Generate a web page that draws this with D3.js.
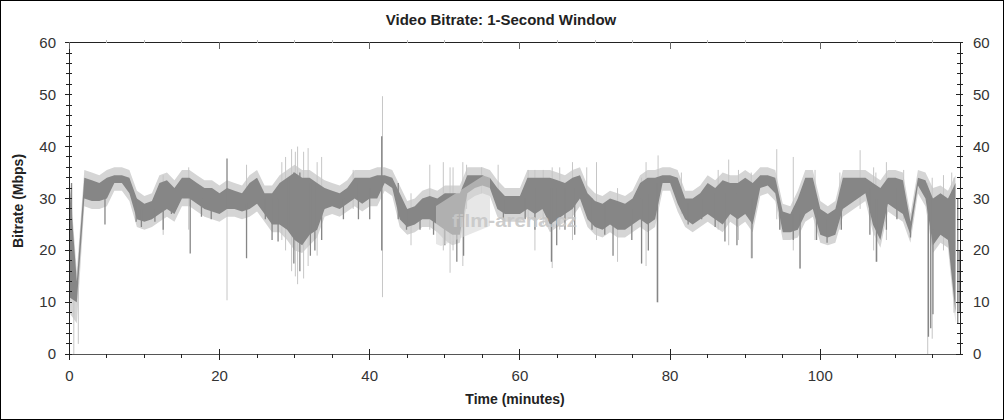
<!DOCTYPE html>
<html><head><meta charset="utf-8">
<script src="https://cdn.jsdelivr.net/npm/d3@7"></script>
<style>
html,body{margin:0;padding:0;background:#fff;}
svg{display:block;font-family:"Liberation Sans",Arial,sans-serif;}
</style></head>
<body>
<svg id="chart" width="1004" height="420"></svg>
<script>
// ---- data (per minute, Mbps) ----
const title = "Video Bitrate: 1-Second Window";
const xLabel = "Time (minutes)";
const yLabel = "Bitrate (Mbps)";
const xTicks = [0, 20, 40, 60, 80, 100];
const yTicks = [0, 10, 20, 30, 40, 50, 60];
const xMax = 118.6;
const minutes = d3.range(0, 119);

// dark (core) band
const darkLow = [
 11,10,30,29.5,29.5,30,33,33,31,26,
 25.5,26,27,28,27,30,30,29,28,27.5,
 27,28,28,27.5,28,29,27,25,25,24,
 22,21,23,24,28,28.5,28,29,30,29,
 30,30,33,32,26,24.5,25,26,26,25,
 24,23,23,31,32,32.5,32,28,27,27,
 27,28,27,28,25,26,27,28,30,26,
 24.5,24,25,24,24,25,26,25,26,33,
 33,29,26,25,26,27,26,25,27,26,
 27,25,32,32.5,31,23.5,23.5,24,27,28,
 23,22.5,23,28,29,30,31,25,22,29,
 28,27,23,32.5,30,21,23,22,8];
const darkHigh = [
 33.5,14,34,33.5,33,34,34.5,34.5,34,30,
 29,29.5,33,33.5,32,34,34,33,32,32,
 31,32,31.5,31,33,34,31,31,33,34,
 35,34,34,33,32,31.5,31,32,34,34,
 34,34.5,34.5,34,31,28,28.5,30,30.5,30,
 31,31,31,34.5,34.5,34.5,34,32,30.5,30.5,
 30.5,34,34,34,34,33.5,33,34,34.5,31,
 29.5,29,30,29.5,29,30,33,34,34,34.5,
 34.5,34,30,30,31,33,32,33.5,33,33,
 34,33,34.5,34.5,34,27.5,27,30,34,34,
 28,27,28,34,34,34,34,33,32,34,
 34,33.5,25.5,34,33.5,30,31,30,33];
// light (outer) band
const lightLow = [
 8,6,28.5,28,28,28.5,31.5,31.5,29.5,24.5,
 24,24.5,25.5,26.5,25.5,28.5,28.5,27.5,26.5,26,
 25.5,26.5,26.5,26,26.5,27.5,25.5,23.5,23.5,22,
 20,19.5,21,22.5,26.5,27,26.5,27.5,28.5,27.5,
 28.5,28.5,31.5,30.5,24.5,23,23.5,24.5,24.5,23.5,
 22,21,21.5,29.5,30.5,31,30.5,26.5,25.5,25.5,
 25.5,26.5,25.5,26.5,23.5,24.5,25.5,26.5,28.5,24.5,
 23,22.5,23.5,22.5,22.5,23.5,24.5,23.5,24.5,31.5,
 31.5,27.5,24.5,23.5,24.5,25.5,24.5,23.5,25.5,24.5,
 25.5,23.5,30.5,31,29.5,22,22,22.5,25.5,26.5,
 21.5,21,21.5,26.5,27.5,28.5,29.5,23.5,20.5,27.5,
 26.5,25.5,21.5,31,28.5,19.5,21.5,20.5,6];
const lightHigh = [
 35,16,35.5,35,34.5,35.5,36,36,35.5,31.5,
 30.5,31,34.5,35,33.5,35.5,35.5,34.5,33.5,33.5,
 32.5,33.5,33,32.5,34.5,35.5,32.5,32.5,34.5,35.5,
 36.5,35.5,35.5,34.5,33.5,33,32.5,33.5,35.5,35.5,
 35.5,36,36,35.5,32.5,29.5,30,31.5,32,31.5,
 32.5,32.5,32.5,36,36,36,35.5,33.5,32,32,
 32,35.5,35.5,35.5,35.5,35,34.5,35.5,36,32.5,
 31,30.5,31.5,31,30.5,31.5,34.5,35.5,35.5,36,
 36,35.5,31.5,31.5,32.5,34.5,33.5,35,34.5,34.5,
 35.5,34.5,36,36,35.5,29,28.5,31.5,35.5,35.5,
 29.5,28.5,29.5,35.5,35.5,35.5,35.5,34.5,33.5,35.5,
 35.5,35,27,35.5,35,32,32.5,31.5,34.5];
// isolated spikes: [minute, low, high]
const lightSpikes = [
 [0.6,0,20],[1.2,2,14],[12.5,23,34.5],[15.9,24,36],[21.0,10.4,32],[23.6,22,36.5],
 [28.3,22,37],[28.8,20,38],[29.6,16,39.5],[30.1,15,39],[30.4,13.5,40],[31.2,14.6,39],
 [31.8,17,39.7],[33.0,19,37],[33.6,22,38],[37.8,28,35.5],[41.7,11,49.7],[45.5,21,31],
 [48.0,24,36.5],[49.8,20,37],[50.7,15.7,36],[51.1,20,36],[52.4,17,37],[52.9,28,36.5],
 [54.9,31,36],[57.1,28,36.5],[61.1,26,35.5],[62.0,20,35.5],[63.1,25,35.5],[64.3,16.6,36],
 [65.3,24,36],[67.0,22,37],[68.9,28,36],[70.2,22,37],[73.0,17.8,32],[76.2,17.5,34],
 [76.8,17,37],[78.4,10,38.3],[81.5,27,35],[86.4,24,35.5],[87.8,21,37.5],[89.1,22,35.5],
 [90.8,18.5,35],[94.2,26,39.5],[96.4,20,38],[97.3,16.5,30],[99.3,22,35.5],[102.6,24,35],
 [105.3,28,39.3],[107.1,20,36],[107.4,17.8,35],[108.8,22,37],[111.1,26,35.5],[114.3,0,33],
 [114.9,3,34],[116.4,20,34.5],[117.5,18,35],[117.8,8,34]];
const darkSpikes = [
 [0.3,11,33],[4.75,25,32],[8.9,25.5,30],[9.6,24.5,28],[11.4,25.5,28],[12.5,24,30],
 [13.6,27,32],[16.1,19.4,31],[17.6,26.5,30],[18.9,26,30],[21.0,28,37.7],[23.6,18.5,29],
 [26.1,26,30],[27.0,22,30],[27.8,21.7,30],[29.2,24,34],[29.9,17.5,35],[30.7,16,35],
 [32.1,19,33],[32.7,20,33],[33.6,22,32],[36.5,26,30],[38.5,26,33],[40.0,26,32],
 [41.6,20,42],[43.8,26,33],[44.9,24,28],[46.7,24,28],[48.5,23,29],[50.0,21,30],
 [51.6,17.8,30],[52.5,19,30],[57.8,26,30],[60.7,26,30],[62.0,24,32],[64.2,17.8,32],
 [64.9,21,32],[66.0,24,32],[67.3,23,32],[69.6,24,30],[71.3,23,29],[72.4,19,28],
 [74.9,22,28],[76.2,17.5,30],[77.1,20,31],[78.3,10,33],[82.4,25,29],[84.2,26,30],
 [86.0,24.5,31],[87.3,21.7,31],[88.9,21,31],[90.9,18.5,30],[94.6,24,28],[96.4,22,27],
 [97.3,16.5,27],[99.5,22,30],[100.9,21.5,26],[102.8,24,30],[106.6,23,32],[107.5,17.8,30],
 [108.8,24,32],[110.2,26,32],[112.0,22.5,25],[114.4,3.4,31],[114.7,5,30],[115.0,7.7,24],
 [118.3,6,30],[118.5,8,20]];
const watermark = "film-arena.cz";

// ---- layout ----
const svg = d3.select("#chart");
const W = 1004, H = 420;
const m = {left: 69.3, right: 960, top: 42.7, bottom: 354.3};
const x = d3.scaleLinear().domain([0, xMax]).range([m.left, m.right]);
const y = d3.scaleLinear().domain([0, 60]).range([m.bottom, m.top]);

svg.append("rect").attr("x",0.5).attr("y",0.5).attr("width",W-1).attr("height",H-1)
  .attr("fill","#fff").attr("stroke","#000");

const rows = minutes.map((t,i)=>({t, dl:darkLow[i], dh:darkHigh[i], ll:lightLow[i], lh:lightHigh[i]}));
svg.append("clipPath").attr("id","pc").append("rect")
  .attr("x",m.left).attr("y",m.top).attr("width",m.right-m.left).attr("height",m.bottom-m.top);
const g = svg.append("g").attr("clip-path","url(#pc)");

g.append("path").datum(rows).attr("fill","#d5d5d5")
  .attr("d", d3.area().x(d=>x(d.t)).y0(d=>y(d.ll)).y1(d=>y(d.lh)));
g.selectAll("line.ls").data(lightSpikes).join("line").attr("class","ls")
  .attr("x1",d=>x(d[0])).attr("x2",d=>x(d[0])).attr("y1",d=>y(d[1])).attr("y2",d=>y(d[2]))
  .attr("stroke","#c6c6c6").attr("stroke-width",1);
g.append("path").datum(rows).attr("fill","#868686")
  .attr("d", d3.area().x(d=>x(d.t)).y0(d=>y(d.dl)).y1(d=>y(d.dh)));
g.selectAll("line.ds").data(darkSpikes).join("line").attr("class","ds")
  .attr("x1",d=>x(d[0])).attr("x2",d=>x(d[0])).attr("y1",d=>y(d[1])).attr("y2",d=>y(d[2]))
  .attr("stroke","#868686").attr("stroke-width",1.3);

// watermark
const wm = svg.append("g");
wm.append("path").attr("d","M436,206 L486,174 L490,177 L490,226 L441,246 L436,244 Z")
  .attr("fill","#d4d4d4").attr("opacity",0.55);
wm.append("text").attr("x",452).attr("y",227).attr("font-size",18).attr("font-weight","bold")
  .attr("textLength",125).attr("lengthAdjust","spacingAndGlyphs")
  .attr("fill","#c8c8c8").attr("opacity",0.9).text(watermark);

// ---- axes ----
const axes = svg.append("g").attr("stroke","#222").attr("stroke-width",1).attr("shape-rendering","crispEdges");
axes.append("line").attr("x1",m.left).attr("x2",m.right).attr("y1",m.top).attr("y2",m.top);
axes.append("line").attr("x1",m.left).attr("x2",m.right).attr("y1",m.bottom).attr("y2",m.bottom).attr("stroke","#555");
axes.append("line").attr("x1",m.left).attr("x2",m.left).attr("y1",m.top).attr("y2",m.bottom);
axes.append("line").attr("x1",m.right).attr("x2",m.right).attr("y1",m.top).attr("y2",m.bottom);

const yMinor = d3.range(0, 61, 2).filter(v=>v%10!==0);
const xMinor = d3.range(0, xMax, 5).filter(v=>v%20!==0);
[m.left, m.right].forEach(ax=>{
  axes.selectAll(null).data(yTicks).join("line")
    .attr("x1",ax-4).attr("x2",ax+3).attr("y1",d=>y(d)).attr("y2",d=>y(d));
  axes.selectAll(null).data(yMinor).join("line")
    .attr("x1",ax-3).attr("x2",ax+3).attr("y1",d=>y(d)).attr("y2",d=>y(d));
});
axes.selectAll(null).data(xTicks).join("line")
  .attr("x1",d=>x(d)).attr("x2",d=>x(d)).attr("y1",m.bottom-5).attr("y2",m.bottom+6);
axes.selectAll(null).data(xMinor).join("line")
  .attr("x1",d=>x(d)).attr("x2",d=>x(d)).attr("y1",m.bottom).attr("y2",m.bottom+4);
axes.selectAll(null).data(xTicks).join("line")
  .attr("x1",d=>x(d)).attr("x2",d=>x(d)).attr("y1",m.top-1).attr("y2",m.top+6).attr("stroke","#666");
axes.selectAll(null).data(xMinor).join("line")
  .attr("x1",d=>x(d)).attr("x2",d=>x(d)).attr("y1",m.top-3).attr("y2",m.top).attr("stroke","#bbb");

// tick labels
const lab = svg.append("g").attr("fill","#333").attr("font-size",15);
lab.selectAll(null).data(yTicks).join("text").attr("x",56).attr("y",d=>y(d)+5)
  .attr("text-anchor","end").text(d=>d);
lab.selectAll(null).data(yTicks).join("text").attr("x",973).attr("y",d=>y(d)+5)
  .attr("text-anchor","start").text(d=>d);
lab.selectAll(null).data(xTicks).join("text").attr("x",d=>x(d)).attr("y",381)
  .attr("text-anchor","middle").text(d=>d);

// titles
svg.append("text").attr("x",501).attr("y",25).attr("text-anchor","middle")
  .attr("font-size",15).attr("font-weight","bold").attr("fill","#222").text(title);
svg.append("text").attr("x",515).attr("y",404).attr("text-anchor","middle")
  .attr("font-size",14).attr("font-weight","bold").attr("fill","#222").text(xLabel);
svg.append("text").attr("transform","translate(23,201) rotate(-90)").attr("text-anchor","middle")
  .attr("font-size",14).attr("font-weight","bold").attr("fill","#222").text(yLabel);
</script>
</body></html>
